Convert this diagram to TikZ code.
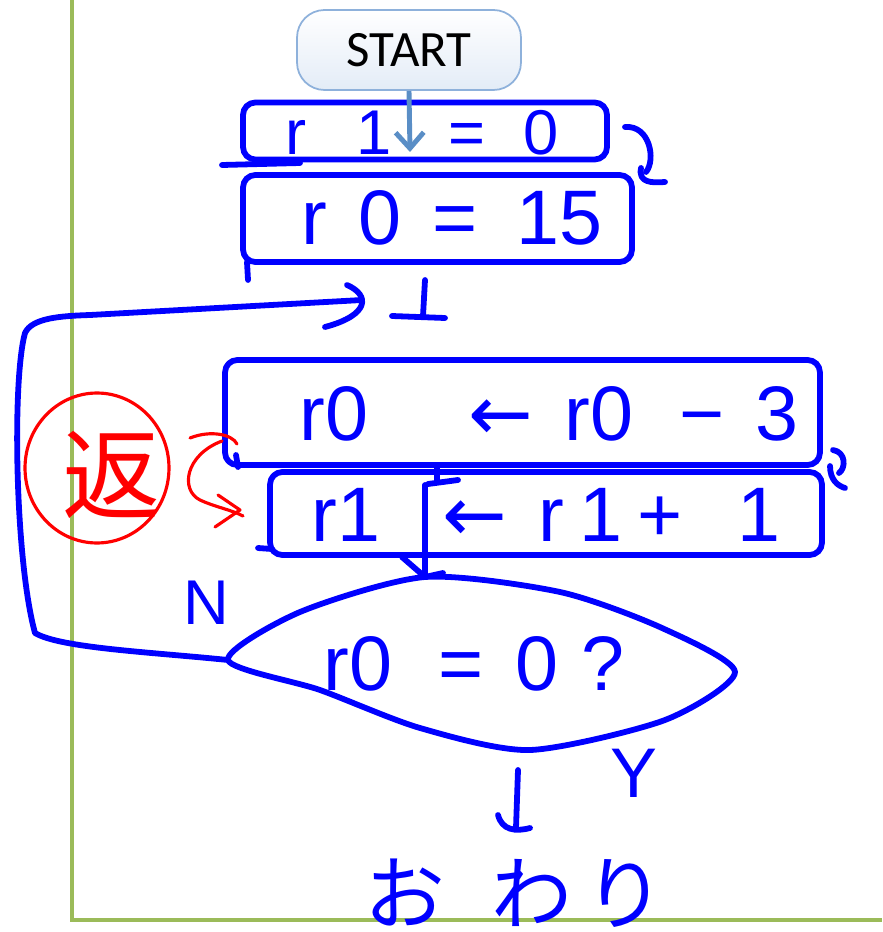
\documentclass[tikz,border=0pt]{standalone}
\usepackage{fontspec}
\setmainfont{Liberation Sans}
\newfontfamily\jpfont{Noto Sans CJK JP}
\newfontfamily\calibfont{Carlito}
\newfontfamily\arrfont{DejaVu Sans}
\usetikzlibrary{arrows.meta}
\definecolor{grn}{HTML}{9BBB59}
\definecolor{lblue}{HTML}{5A8EC6}
\definecolor{startline}{HTML}{8EB1DB}
\definecolor{startfill}{HTML}{E3ECF7}
\newcommand{\larr}{{\arrfont ←}}
\begin{document}
\begin{tikzpicture}[x=0.02cm,y=-0.02cm,
  hand/.style={draw=blue, line width=3.3pt, line cap=round, line join=round},
  handbox/.style={hand, rounded corners=7pt, inner sep=0pt},
  htext/.style={text=blue, inner sep=0pt, font=\fontsize{44}{48}\selectfont},
  redline/.style={draw=red, line width=1.8pt, line cap=round, line join=round},
  startbox/.style={draw=startline, line width=1pt, rounded corners=0.55cm, top color=white, bottom color=startfill, minimum width=4.48cm, minimum height=1.6cm, font=\calibfont\fontsize{29}{33}\selectfont}
]
\useasboundingbox (0,0) rectangle (882,932);
% green frame
\draw[grn, line width=2.8pt] (72,0) -- (72,920) -- (882,920);

% START
\node[startbox] (start) at (409,50) {START};

% boxes
\node[handbox, minimum width=7.28cm, minimum height=1.14cm] (b1) at (425,131) {};
\node[handbox, minimum width=7.78cm, minimum height=1.74cm] (b2) at (437.5,218.5) {};
\node[handbox, minimum width=11.9cm, minimum height=2.1cm] (b3) at (522.5,412.5) {};
\node[handbox, minimum width=11.04cm, minimum height=1.66cm] (b4) at (546,513.5) {};

% box texts
\node[htext, font=\fontsize{36}{40}\selectfont] (t1) at (422,133) {r\hspace{0.8em}1\hspace{0.9em}=\hspace{0.6em}0};
\node[htext] (t2) at (452,218) {r\hspace{0.4em}0\hspace{0.4em}=\hspace{0.5em}15};
\node[htext] (t3) at (549,414) {r0\hspace{1.3em}\larr\hspace{0.4em}r0\hspace{0.6em}−\hspace{0.4em}3};
\node[htext] (t4) at (546,515) {r1\hspace{0.8em}\larr\hspace{0.4em}r\hspace{0.2em}1\hspace{0.2em}+\hspace{0.7em}1};

% stray extensions of hand-drawn boxes
\draw[hand] (222,165) -- (300,163);
\draw[hand] (247,262) -- (248,280);
\draw[hand] (236,455) -- (238,467);
\draw[hand] (258,548) -- (272,549);

% little squiggles
\draw[hand] (625,127) .. controls (650,125) and (656,160) .. (646,172);
\draw[hand] (641,168) .. controls (638,183) and (652,183) .. (665,182);
\draw[hand] (833,450) .. controls (846,452) and (846,468) .. (839,473);
\draw[hand] (830,466) .. controls (830,480) and (838,486) .. (845,488);

% decision
\coordinate (dL) at (228,660);
\coordinate (dT) at (425,577);
\coordinate (dB) at (530,750);
\draw[hand] plot[smooth cycle, tension=0.45] coordinates {(228,660) (300,612) (425,577) (560,592) (662,628) (735,672) (665,720) (530,750) (420,728) (320,690)};
\node[htext] (t5) at (474,664) {r0\hspace{0.6em}=\hspace{0.4em}0\hspace{0.3em}?};

% START arrow
\coordinate (a1) at (410,152);
\draw[lblue, line width=2.8pt, -{Straight Barb[length=9pt,width=16pt]}] (start.south) -- (a1);

% merge point and loop
\coordinate (m0) at (425,280);
\coordinate (m) at (423,316);
\coordinate (mL) at (362,300);
\draw[hand] (m0) -- (m);
\draw[hand] (392,316) -- (445,318);
\draw[hand] (dL) .. controls (150,652) and (60,648) .. (35,633)
  .. controls (15,560) and (12,380) .. (25,333)
  .. controls (32,318) and (60,316) .. (90,315) -- (mL);
\draw[hand] (347,285) .. controls (370,295) and (370,315) .. (325,327);

% box3 -> box4
\coordinate (c3) at (437,465);
\coordinate (c4) at (437,482);
\draw[hand] (c3) -- (c4);
\draw[hand] (428,484) -- (458,480);

% box4 -> decision
\coordinate (c5) at (425,485);
\draw[hand] (c5) -- (dT);
\draw[hand] (402,557) -- (dT) -- (443,573);

% N and Y
\node[htext, font=\fontsize{36}{40}\selectfont] (nlab) at (206,603) {N};
\node[htext, font=\fontsize{40}{44}\selectfont] (ylab) at (634,773) {Y};

% exit arrow
\coordinate (e0) at (518,770);
\coordinate (e1) at (516,828);
\draw[hand] (e0) -- (e1);
\draw[hand] (498,815) .. controls (502,830) and (515,832) .. (530,828);

% end text
\node[text=blue, inner sep=0pt, font=\jpfont\fontsize{46}{50}\selectfont] (endt) at (515,893) {お\hspace{0.57em}わ\hspace{0.16em}り};

% red annotation
\draw[redline] (97,468) ellipse [x radius=1.44cm, y radius=1.5cm];
\node[text=red, inner sep=0pt, font=\jpfont\fontsize{56}{60}\selectfont] (rt) at (112,475) {返};
\draw[redline] (190,438) .. controls (210,430) and (232,434) .. (237,444);
\draw[redline] (222,441) .. controls (185,455) and (180,490) .. (200,500)
  .. controls (215,507) and (232,510) .. (243,516);
\draw[redline] (218,495) -- (240,510) -- (215,527);
\end{tikzpicture}
\end{document}
